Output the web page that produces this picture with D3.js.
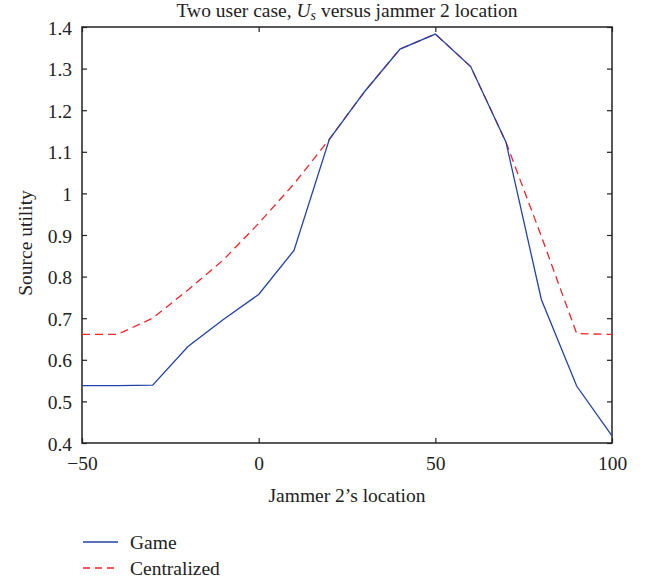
<!DOCTYPE html>
<html>
<head>
<meta charset="utf-8">
<script src="https://cdn.jsdelivr.net/npm/d3@7"></script>
<style>
  body { margin: 0; background: #fff; }
  svg text { font-family: "Liberation Serif", "DejaVu Serif", serif; fill: #222; }
</style>
</head>
<body>
<svg id="chart" width="648" height="581"></svg>
<script>
// jammer 2 location
let locations = [-50, -40, -30, -20, -10, 0, 10, 20, 30, 40, 50, 60, 70, 80, 90, 100];
let gameValues = [0.538, 0.538, 0.539, 0.632, 0.697, 0.757, 0.863, 1.13, 1.245, 1.347, 1.383, 1.305, 1.123, 0.745, 0.537, 0.417];
let centralValues = [0.661, 0.661, 0.70, 0.768, 0.84, 0.928, 1.023, 1.13, 1.245, 1.347, 1.383, 1.305, 1.123, 0.897, 0.663, 0.661];
let xTicks = [-50, 0, 50, 100];
let yTicks = [0.4, 0.5, 0.6, 0.7, 0.8, 0.9, 1, 1.1, 1.2, 1.3, 1.4];

let plotLeft = 82, plotRight = 612, plotTop = 27, plotBottom = 443;
let fontSize = 19.5;
let svg = d3.select("#chart");

let x = d3.scaleLinear().domain([-50, 100]).range([plotLeft, plotRight]);
let y = d3.scaleLinear().domain([0.4, 1.4]).range([plotBottom, plotTop]);

let fmt = d => d < 0 ? "\u2212" + Math.abs(d) : String(d);

// axes, ticks pointing inward like matlab
let tickLen = 5;
let xAxis = d3.axisBottom(x).tickValues(xTicks).tickSize(-tickLen).tickPadding(10).tickFormat(fmt);
let xAxisTop = d3.axisTop(x).tickValues(xTicks).tickSize(-tickLen).tickFormat("");
let yAxis = d3.axisLeft(y).tickValues(yTicks).tickSize(-tickLen).tickPadding(10).tickFormat(d => String(d));
let yAxisRight = d3.axisRight(y).tickValues(yTicks).tickSize(-tickLen).tickFormat("");

function styleAxis(g) {
  g.select(".domain").remove();
  g.selectAll(".tick line").attr("stroke", "#222").attr("stroke-width", 1.2);
  g.selectAll(".tick text").attr("font-size", fontSize).attr("fill", "#222")
    .attr("font-family", "Liberation Serif, serif");
}

let gx = svg.append("g").attr("transform", `translate(0,${plotBottom})`).call(xAxis).call(styleAxis);
gx.selectAll(".tick text").attr("y", 27).attr("dy", null);
svg.append("g").attr("transform", `translate(0,${plotTop})`).call(xAxisTop).call(styleAxis);
let gy = svg.append("g").attr("transform", `translate(${plotLeft},0)`).call(yAxis).call(styleAxis);
gy.selectAll(".tick text").attr("dy", "0.36em");
svg.append("g").attr("transform", `translate(${plotRight},0)`).call(yAxisRight).call(styleAxis);

// frame
svg.append("rect")
  .attr("x", plotLeft).attr("y", plotTop)
  .attr("width", plotRight - plotLeft).attr("height", plotBottom - plotTop)
  .attr("fill", "none").attr("stroke", "#222").attr("stroke-width", 1.5);

let line = d3.line().x((d, i) => x(locations[i])).y(d => y(d));

svg.append("path")
  .datum(centralValues)
  .attr("d", line)
  .attr("fill", "none")
  .attr("stroke", "#f0242a")
  .attr("stroke-width", 1.3)
  .attr("stroke-dasharray", "8,5");

svg.append("path")
  .datum(gameValues)
  .attr("d", line)
  .attr("fill", "none")
  .attr("stroke", "#2342a8")
  .attr("stroke-width", 1.3);

// title
let title = svg.append("text")
  .attr("x", (plotLeft + plotRight) / 2).attr("y", 17)
  .attr("text-anchor", "middle").attr("font-size", fontSize);
title.append("tspan").text("Two user case, ");
title.append("tspan").attr("font-style", "italic").text("U");
title.append("tspan").attr("font-style", "italic").attr("font-size", 14).attr("dy", 3).text("s");
title.append("tspan").attr("dy", -3).text(" versus jammer 2 location");

// axis labels
svg.append("text")
  .attr("x", (plotLeft + plotRight) / 2).attr("y", 502)
  .attr("text-anchor", "middle").attr("font-size", fontSize)
  .text("Jammer 2\u2019s location");

svg.append("text")
  .attr("transform", `translate(32,243) rotate(-90)`)
  .attr("text-anchor", "middle").attr("font-size", fontSize)
  .text("Source utility");

// legend
let legendItems = [
  { label: "Game", color: "#2342a8", dash: null },
  { label: "Centralized", color: "#f0242a", dash: "7,5" }
];
let legend = svg.selectAll(".legend")
  .data(legendItems)
  .enter().append("g")
  .attr("transform", (d, i) => `translate(83,${542 + i * 26})`);

legend.append("line")
  .attr("x1", 0).attr("x2", 35).attr("y1", 0).attr("y2", 0)
  .attr("stroke", d => d.color).attr("stroke-width", 1.3)
  .attr("stroke-dasharray", d => d.dash);

legend.append("text")
  .attr("x", 47).attr("y", 6.5)
  .attr("font-size", fontSize)
  .text(d => d.label);
</script>
</body>
</html>
